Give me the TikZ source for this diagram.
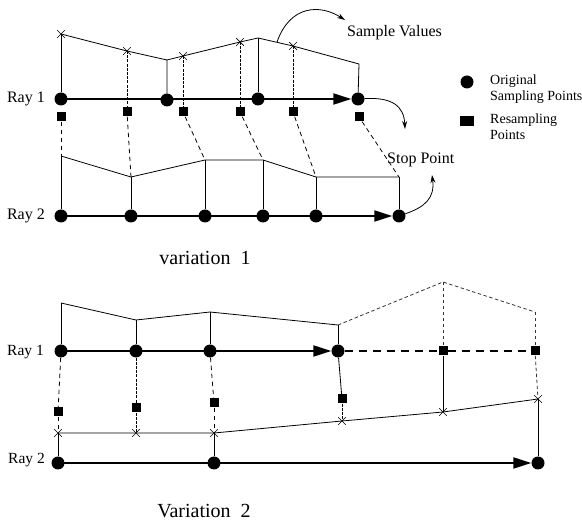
\documentclass[tikz,border=0pt]{standalone}
\usepackage{fontspec}
\setmainfont{Liberation Serif}
\usetikzlibrary{arrows.meta,shapes.misc}
\tikzset{
  dot/.style={circle,fill=black,inner sep=0pt,minimum size=13pt},
  sq/.style={rectangle,fill=black,inner sep=0pt,minimum size=9pt},
  xm/.style={cross out,draw=black,line width=0.7pt,inner sep=0pt,minimum size=7pt},
  pt/.style={coordinate},
  thin line/.style={line width=0.8pt},
  ray/.style={line width=2pt},
  rayarrow/.style={line width=2pt,-{Triangle[length=18pt,width=11pt]}},
  dense/.style={line width=0.8pt,dash pattern=on 3pt off 1.2pt},
  link/.style={line width=0.8pt,dash pattern=on 4.5pt off 3.5pt},
  faint/.style={line width=0.8pt,dash pattern=on 3.5pt off 2.5pt,black!80},
  raydash/.style={line width=2pt,dash pattern=on 8pt off 6pt},
  curvearrow/.style={line width=0.8pt,-{Stealth[length=8pt,width=5pt]}},
  lbl/.style={font=\fontsize{16}{18}\selectfont,inner sep=0pt},
  lbls/.style={font=\fontsize{15.5}{17}\selectfont,inner sep=0pt},
  leg/.style={font=\fontsize{14}{15.5}\selectfont,inner sep=0pt,align=left},
  captext/.style={font=\fontsize{20}{24}\selectfont,inner sep=0pt}
}
\begin{document}
\begin{tikzpicture}[x=1pt,y=-1pt]
\useasboundingbox (0,0) rectangle (582,521);
% ================= Variation 1 =================
\node[pt] (p3) at (167,60) {};
\node[pt] (p5) at (258,38) {};
\node[pt] (p6) at (359,64) {};
\node[pt] (c1s) at (61,34) {};
\node[pt] (c2s) at (127,51) {};
\node[pt] (c3s) at (183,56) {};
\node[pt] (c4s) at (240,42) {};
\node[pt] (c5s) at (293,46) {};
\node[pt] (t1) at (61,156) {};
\node[pt] (t2) at (131,177) {};
\node[pt] (t3) at (205,160) {};
\node[pt] (t4) at (263,160) {};
\node[pt] (t5) at (316,177) {};
\node[pt] (t6) at (399,177) {};
\node[dot] (a1) at (61,99) {};
\node[dot] (a2) at (167,100) {};
\node[dot] (a3) at (258,99) {};
\node[dot] (a4) at (358,99) {};
\node[dot] (b1) at (61,216) {};
\node[dot] (b2) at (131,216) {};
\node[dot] (b3) at (205,216) {};
\node[dot] (b4) at (263,216) {};
\node[dot] (b5) at (316,216) {};
\node[dot] (b6) at (399,216) {};
\node[pt] (ab) at (333,99) {};
\node[pt] (bb) at (373,216) {};
\node[sq] (q1) at (61,117) {};
\node[sq] (q2) at (127,112) {};
\node[sq] (q3) at (183,112) {};
\node[sq] (q4) at (240,112) {};
\node[sq] (q5) at (293,112) {};
\node[sq] (q6) at (359,117) {};
\draw[ray] (a1.center) -- (ab);
\draw[rayarrow] (ab) -- (a4);
\draw[ray] (b1.center) -- (bb);
\draw[rayarrow] (bb) -- (b6);
\draw[thin line] (c1s) -- (c2s) -- (p3) (p3) -- (a2);
\draw[thin line] (p3) -- (c3s) -- (c4s) -- (p5) -- (c5s) -- (p6) -- (a4);
\draw[thin line] (p5) -- (a3);
\draw[thin line] (c1s) -- (a1);
\draw[dense] (c2s) -- (q2);
\draw[dense] (c3s) -- (q3);
\draw[dense] (c4s) -- (q4);
\draw[dense] (c5s) -- (q5);
\node[xm] (x1s) at (c1s) {};
\node[xm] (x2s) at (c2s) {};
\node[xm] (x3s) at (c3s) {};
\node[xm] (x4s) at (c4s) {};
\node[xm] (x5s) at (c5s) {};
\draw[thin line] (t1) -- (t2) -- (t3) -- (t4) -- (t5) -- (t6);
\draw[thin line] (t1) -- (b1) (t2) -- (b2) (t3) -- (b3) (t4) -- (b4) (t5) -- (b5) (t6) -- (b6);
\draw[link] (q1) -- (t1);
\draw[link] (q2) -- (t2);
\draw[link] (q3) -- (t3);
\draw[link] (q4) -- (t4);
\draw[link] (q5) -- (t5);
\draw[link] (q6) -- (t6);
\node[lbl,anchor=east] (ray1a) at (45,99) {Ray 1};
\node[lbl,anchor=east] (ray2a) at (45,216) {Ray 2};
\node[lbl,anchor=west] (sv) at (347,33) {Sample Values};
\node[lbl,anchor=west] (sp) at (387,160) {Stop Point};
\node[pt] (svs) at (277,42) {};
\node[pt] (sve) at (345,20) {};
\draw[curvearrow] (svs) .. controls (290,5) and (320,4) .. (sve);
\node[pt] (sp1e) at (405,129) {};
\draw[curvearrow] (a4) .. controls (392,97) and (404,106) .. (sp1e);
\node[pt] (sp2e) at (432,175) {};
\draw[curvearrow] (b6) .. controls (425,207) and (435,198) .. (sp2e);
\node[dot] (lg1) at (467,82) {};
\node[leg,anchor=north west] (lt1) at (490,75) {Original\\Sampling Points};
\node[rectangle,fill=black,inner sep=0pt,minimum width=14pt,minimum height=10pt] (lg2) at (467,121) {};
\node[leg,anchor=north west] (lt2) at (490,114) {Resampling\\Points};
\node[captext,anchor=base] (cap1) at (205,265) {variation~~1};
% ================= Variation 2 =================
\node[pt] (u1) at (61,303) {};
\node[pt] (u2) at (136,320) {};
\node[pt] (u3) at (210,312) {};
\node[pt] (u4) at (338,325) {};
\node[pt] (u5) at (443,282) {};
\node[pt] (u6) at (535,312) {};
\node[pt] (y1) at (58,433) {};
\node[pt] (y2) at (136,433) {};
\node[pt] (y3) at (214,433) {};
\node[pt] (y4) at (342,421) {};
\node[pt] (y5) at (443,412) {};
\node[pt] (y6) at (538,399) {};
\node[dot] (c1) at (61,351) {};
\node[dot] (c2) at (136,351) {};
\node[dot] (c3) at (210,351) {};
\node[dot] (c4) at (338,351) {};
\node[sq] (e1) at (443,351) {};
\node[sq] (e2) at (535,351) {};
\node[dot] (d1) at (58,463) {};
\node[dot] (d2) at (214,463) {};
\node[dot] (d3) at (538,463) {};
\node[pt] (cb) at (312,351) {};
\node[pt] (db) at (513,463) {};
\node[sq] (g1) at (58,412) {};
\node[sq] (g2) at (136,408) {};
\node[sq] (g3) at (214,403) {};
\node[sq] (g4) at (342,399) {};
\draw[ray] (c1.center) -- (cb);
\draw[rayarrow] (cb) -- (c4);
\draw[raydash] (c4) -- (e1) -- (e2);
\draw[ray] (d1.center) -- (db);
\draw[rayarrow] (db) -- (d3);
\draw[thin line] (u1) -- (u2) -- (u3) -- (u4);
\draw[thin line] (u1) -- (c1) (u2) -- (c2) (u3) -- (c3) (u4) -- (c4);
\draw[faint] (u4) -- (u5) -- (u6);
\draw[faint] (u5) -- (e1) (u6) -- (e2);
\draw[link] (c1) -- (g1);
\draw[dense] (c2) -- (g2);
\draw[link] (c3) -- (g3);
\draw[thin line] (c4) -- (g4);
\draw[link] (g1) -- (y1);
\draw[dense] (g2) -- (y2);
\draw[link] (g3) -- (y3);
\draw[dense] (g4) -- (y4);
\draw[thin line] (e1) -- (y5);
\draw[faint] (e2) -- (y6);
\draw[thin line] (y1) -- (y2) -- (y3) -- (y4) -- (y5) -- (y6);
\draw[thin line] (y1) -- (d1) (y3) -- (d2) (y6) -- (d3);
\node[xm] (w1) at (y1) {};
\node[xm] (w2) at (y2) {};
\node[xm] (w3) at (y3) {};
\node[xm] (w4) at (y4) {};
\node[xm] (w5) at (y5) {};
\node[xm] (w6) at (y6) {};
\node[lbls,anchor=east] (ray1b) at (44,352) {Ray 1};
\node[lbls,anchor=east] (ray2b) at (45,460) {Ray 2};
\node[captext,anchor=base] (cap2) at (204,518) {Variation~~2};
\end{tikzpicture}
\end{document}
